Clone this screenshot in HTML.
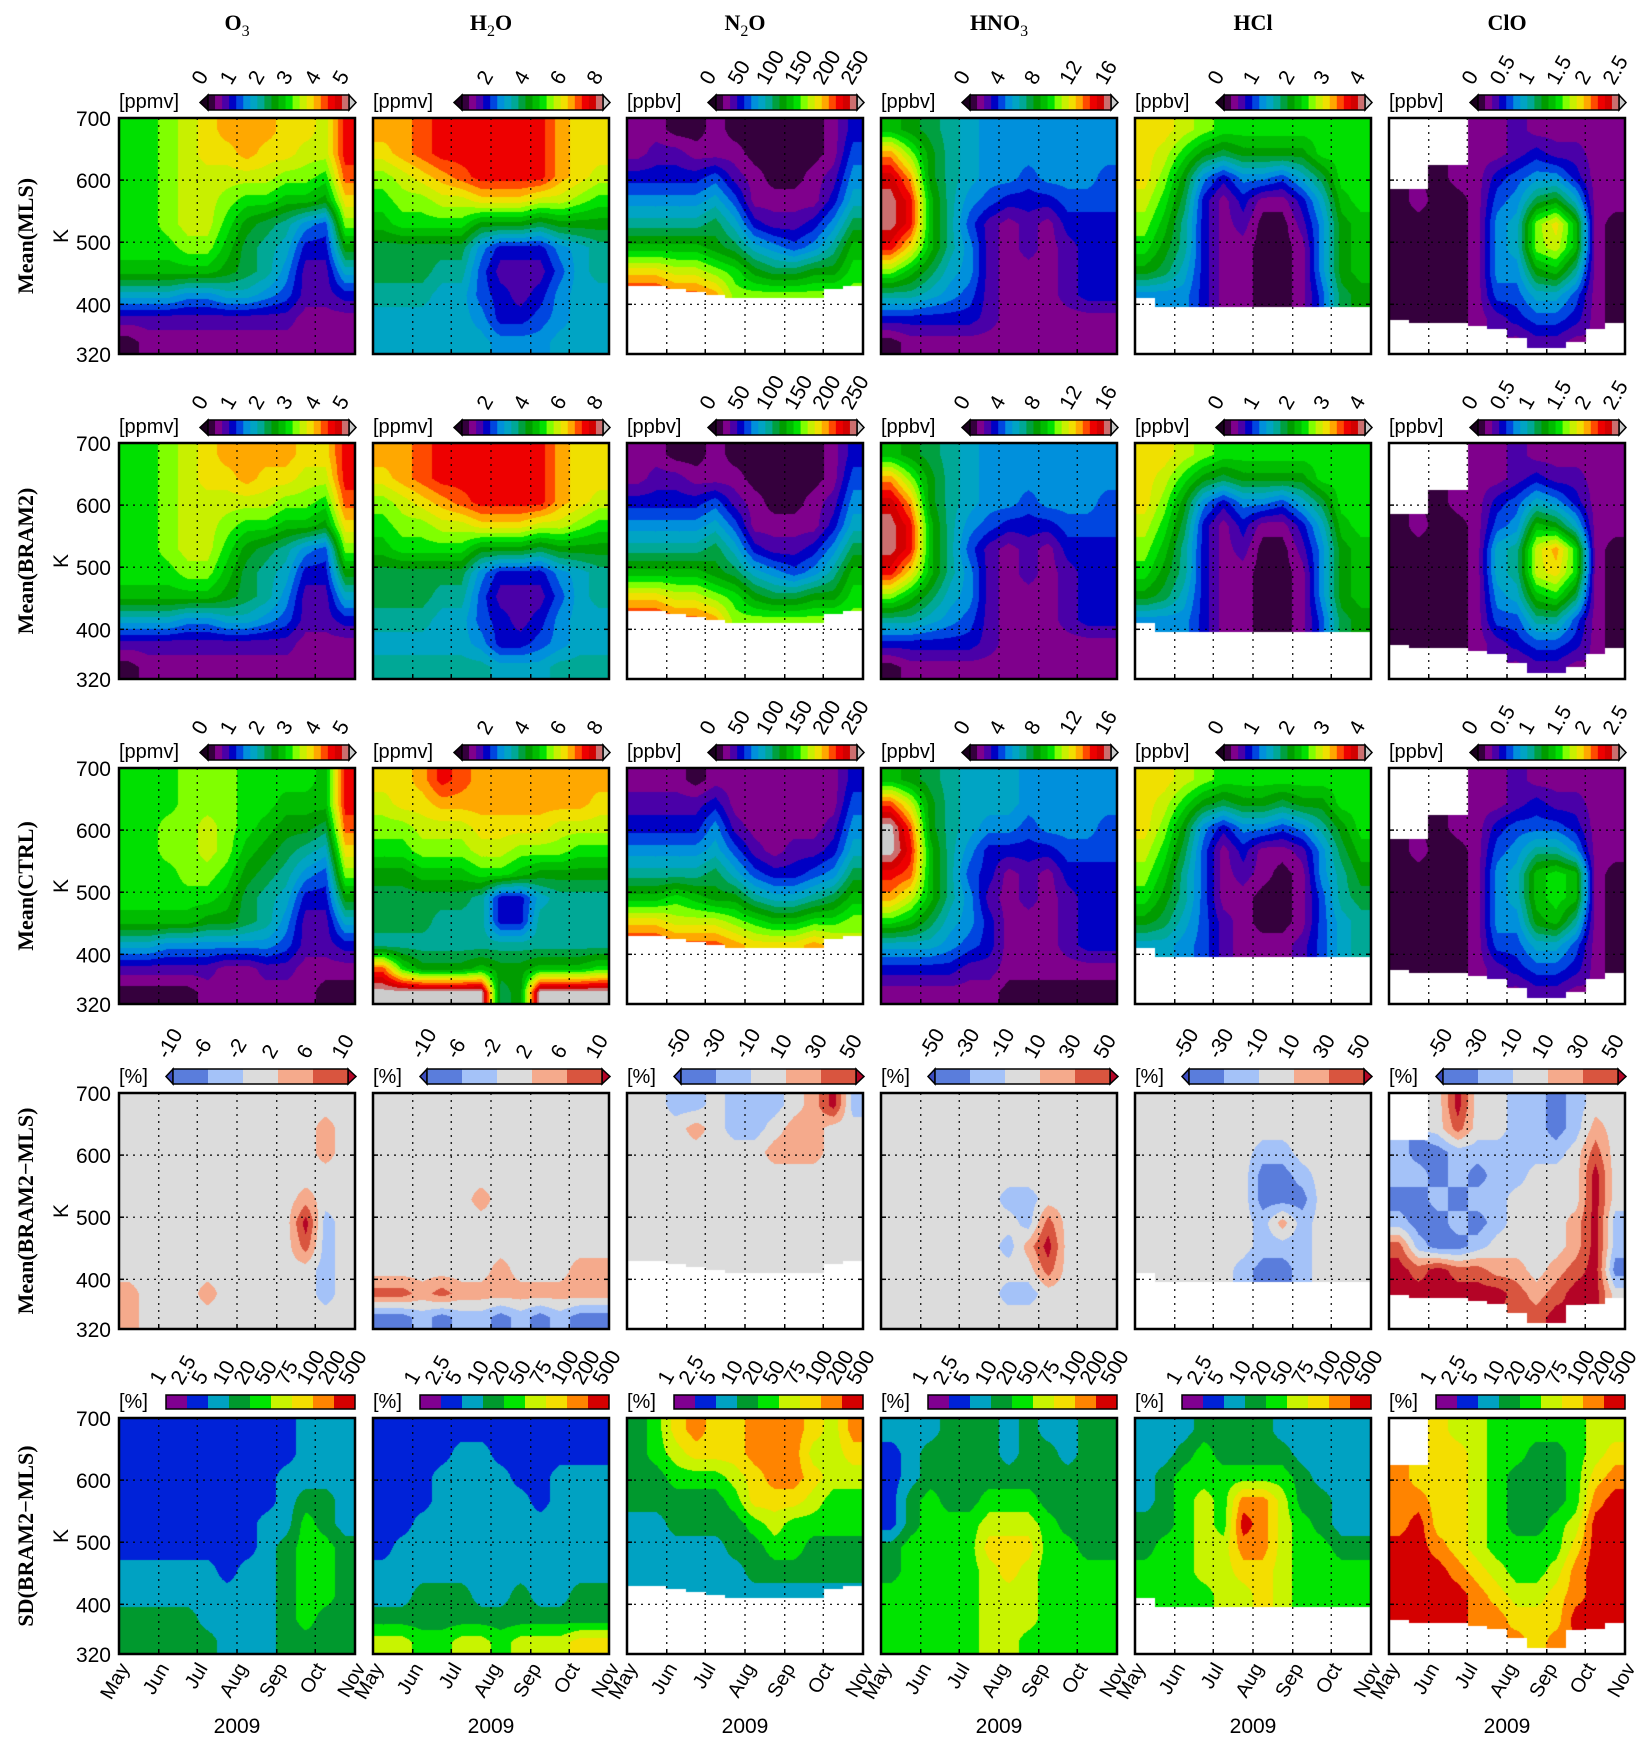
<!DOCTYPE html>
<html><head><meta charset="utf-8">
<style>
html,body{margin:0;padding:0;background:#fff;}
#wrap{position:relative;width:1651px;height:1748px;overflow:hidden;background:#fff;}
canvas{position:absolute;}
svg{position:absolute;left:0;top:0;}
</style></head>
<body>
<div id="wrap">
<svg id="ov" width="1651" height="1748"></svg>
</div>
<script>
// ---------- axes / layout data ----------
const colLefts = [119,373,627,881,1135,1389];
const rowTops = [118,443,768,1093,1418];
const PW = 236, PH = 236;
const kTicks = [700,600,500,400,320];
const gridK = [600,500,400];
const monthLabels = ['May','Jun','Jul','Aug','Sep','Oct','Nov'];
const monthDays = [0,31,61,92,123,153,184];
const rowNames = ['Mean(MLS)','Mean(BRAM2)','Mean(CTRL)','Mean(BRAM2\u2212MLS)','SD(BRAM2\u2212MLS)'];
const species = [['O','3'],['H','2','O'],['N','2','O'],['HNO','3'],['HCl'],['ClO']];
const units = ['[ppmv]','[ppmv]','[ppbv]','[ppbv]','[ppbv]','[ppbv]'];
const meanTicks = [['0','1','2','3','4','5'],['2','4','6','8'],['0','50','100','150','200','250'],['0','4','8','12','16'],['0','1','2','3','4'],['0','0.5','1','1.5','2','2.5']];
const h2oTickPos = [0.22,0.48,0.74,1.0];
const diffTicksA = ['-10','-6','-2','2','6','10'];
const diffTicksB = ['-50','-30','-10','10','30','50'];
const sdTicks = ['1','2.5','5','10','20','50','75','100','200','500'];

const MEAN_COLORS = ['#35003d','#7f008c','#4a00a8','#0000c4','#0046e0','#0090dc','#00a4c4','#00a896','#00a040','#009c00','#00bc00','#00e000','#80ff00','#c8f000','#f0e000','#ffa800','#ff4a00','#ee0000','#d20000','#cc6e6e','#cccccc'];
const DIFF_COLORS = ['#3b4cc0','#5a7ddc','#a4c2f8','#dcdcdc','#f5aa8c','#d9553f','#b40426'];
const SD_COLORS = ['#800090','#0022d8','#00a2c2','#00992e','#00e400','#c8f400','#f4de00','#ff8400','#d40000'];

// ---------- grids: rows = 681,643,...,339 K ; cols = half-month steps May..Oct ----------
const o3_mls = ['bbcdefffeedh','bbcdeefeeddh','bbcdddddccbg','bbcddcbbaa9e','bbcddb98754c','bbbcca876339','aaaaa9875226','666556654223','222222222111','011111111111'];
const h2o_mls = ['ffghhhhhhfee','efghhhhhhfee','cdefghhhhfed','bccddeeeddcb','abbbb9998999','888885333567','888774222467','777664323566','666665334566','666666555666'];
const n2o_mls = ['110010000013','122111000014','333342100125','555564111136','777786322358','aaaa9865457a','eeddcb98899b','hhggfccccccc','............','............'];
const n2o_floor = [430,430,425,420,415,410,410,410,410,410,425,430];
const hno3_mls = ['a98765555555','fc9765555555','if9765545554','jha754333444','jha742121333','hea752121233','ca8652111233','776542111233','333332111111','011111111111'];
const hcl_mls = ['eedcbbbbbbbb','edb989999bbb','ec95355468bb','db83131136ab','ca731200259a','b97311001 59a'.replace(' ',''),'986311001 59a'.replace(' ',''),'555311001 489'.replace(' ',''),'............','............'];
const hcl_floor = [410,390,390,390,390,370,370,370,370,385,390,390];
const clo_mls = ['....11211111','....11232211','..0113455311','010014589611','000015 6cea10'.replace(' ',''),'000015 6cda10'.replace(' ',''),'000015 59a710'.replace(' ',''),'000014 466410'.replace(' ',''),'000012 344310'.replace(' ',''),'......1221..'];
const clo_floor = [375,370,370,370,365,360,345,330,330,340,360,370];

const o3_bram = ['bbcdeffffeeh','bbcdeefeeddh','bbcdddddccbg','bbcddcbbaa9e','bbcddb98754c','bbbcca876339','aaaaa9875226','666556654223','222222222111','011111111111'];
const h2o_bram = ['ffghhhhhhfee','efghhhhhhfee','cdefghhhhfed','bccddeeeddcb','abbbb9998999','888885333567','888774222467','777664323566','666665334566','777777666777'];
const n2o_bram = ['110010000013','122111000014','333342100125','555564111136','777786322358','aaaa9865457a','eeddcb98899b','hhggfccccccc','............','............'];
const hno3_bram = ['a98765555555','fc9765555555','if9765545554','jha754333444','jha742121333','hea752121233','ca8652111233','776542111233','333332111111','011111111111'];
const hcl_bram = ['eedcbbbbbbbb','edb989999bbb','ec95355468bb','db83131136ab','ca731200259a','b97311001 59a'.replace(' ',''),'986311001 59a'.replace(' ',''),'555311001 489'.replace(' ',''),'............','............'];
const clo_bram = ['....11211111','....11232211','..0113465311','0100145a9611','000016 7dfb10'.replace(' ',''),'000016 7deb10'.replace(' ',''),'000015 6ab810'.replace(' ',''),'000014 477410'.replace(' ',''),'000012 344310'.replace(' ',''),'......1221..'];

const o3_ctrl = ['bbbcccbbbbah','bbbcccbbaaah','bbccdcba998g','bbccdca9876e','bbbccb98754c','bbbbba876339','aaaa99875226','665555554223','222221122111','000011111100'];
const h2o_ctrl = ['eefhgfffffff','deeffffffffe','ccdddeeeeddd','bbcccddcccbb','99aaabba9999','888887336777','888777337777','777777777777','gb999a99aaab','kkkkkk89kkkk'];
const n2o_ctrl = ['111011111113','222231111114','333352111125','555564212236','777786433458','aaba9976678a','eedddcbaabbc','hhgggfeeefed','............','............'];
const hno3_ctrl = ['a98766655555','gd9766655555','kg9765545554','kha753333444','hga743121333','fda752121233','ba8653111233','666543111233','333322111111','111111000000'];
const hcl_ctrl = ['eedcbbbbbbbb','edb9899899bb','ec953554579b','db841311258a','ca7412101579','b97411001478','986421001467','665421112467','............','............'];
const clo_ctrl = ['....11211111','....11232211','..0113444311','010014577511','000015 6aba10'.replace(' ',''),'000015 6aba10'.replace(' ',''),'000015 59a710'.replace(' ',''),'000014 466410'.replace(' ',''),'000012 344310'.replace(' ',''),'......1221..'];

const o3_diff = ['333333333333','333333333343','333333333343','333333333333','333333333433','333333333623','333333333523','333333333323','433343333323','433333333333'];
const h2o_diff = ['333333333333','333333333333','333333333333','333333333333','333334333333','333333333333','333333333333','333333433344','554544444444','112122121211'];
const n2o_diff = ['332232223462','333432234433','333333344433','333333333333','333333333333','333333333333','333333333333','333333333333','............','............'];
const hno3_diff = ['333333333333','333333333333','333333333333','333333333333','333333223333','333333325333','333333246333','333333335333','333333223333','333333333333'];
const hcl_diff = ['333333333333','333333333333','333333223333','333333112333','333333111333','333333242333','333333222333','333332112333','............','............'];
const clo_diff = ['..3633221233','..3533221243','211222222353','221212233363','112122333363','211212333462','521123333462','656554434561','666666545663','......556...'];

const o3_sd = ['111111111222','111111111222','111111112222','111111112332','111111122432','111111123443','222221223443','222222223443','333322223433','333332223333'];
const h2o_sd = ['111111111111','111122111111','111222211222','111222221222','112222222222','122222222222','222222222222','223332232233','333333333333','554455455566'];
const n2o_sd = ['346766777657','345666777556','334445677655','333334666544','223333454444','222223344333','222222333333','222222222222','............','............'];
const hno3_sd = ['222333232233','123333233233','123333333333','134334443333','134445554333','344446664433','344445654444','444445554444','444445554444','444445544444'];
const hcl_sd = ['222333322222','223433332222','234444443222','234547753322','334548754322','344557754433','444556654444','444455654444','............','............'];
const clo_sd = ['..6554444455','..6654433456','766654333467','776654333478','786654334588','887654444688','888765445788','888876556788','888877666888','......767...'];

// ---------- helpers ----------
const NS = 'http://www.w3.org/2000/svg';
const ov = document.getElementById('ov');
const wrap = document.getElementById('wrap');
function kToY(top, k){ return top + (700 - k) / 380 * PH; }
function dayToX(left, d){ return left + d / 184 * PW; }
function mk(tag, attrs, parent){
  const e = document.createElementNS(NS, tag);
  for (const a in attrs) e.setAttribute(a, attrs[a]);
  (parent || ov).appendChild(e);
  return e;
}
function hexToRgb(h){ return [parseInt(h.substr(1,2),16),parseInt(h.substr(3,2),16),parseInt(h.substr(5,2),16)]; }

function renderPanel(left, top, grid, colors, floorArr, name){
  const cv = document.createElement('canvas');
  cv.width = PW; cv.height = PH;
  cv.style.left = left + 'px'; cv.style.top = top + 'px';
  
  
  wrap.insertBefore(cv, ov);
  const ctx = cv.getContext('2d');
  const img = ctx.createImageData(PW, PH);
  const rgb = colors.map(hexToRgb);
  const nR = grid.length, nC = grid[0].length;
  const val = (r,c) => { const ch = grid[r][c]; return ch === '.' ? null : parseInt(ch, 21); };
  for (let x = 0; x < PW; x++){
    const t = (x + 0.5) / PW * nC - 0.5;
    const colIdx = Math.min(nC - 1, Math.floor((x + 0.5) / PW * nC));
    for (let y = 0; y < PH; y++){
      const K = 700 - (y + 0.5) / PH * 380;
      const u = (700 - K) / 38 - 0.5;
      let out = null;
      const nr = Math.max(0, Math.min(nR - 1, Math.round(u)));
      const nc = Math.max(0, Math.min(nC - 1, Math.round(t)));
      if (!(floorArr && K < floorArr[colIdx]) && val(nr, nc) !== null){
        const r0 = Math.max(0, Math.min(nR - 1, Math.floor(u))), r1 = Math.min(nR - 1, r0 + 1);
        const c0 = Math.max(0, Math.min(nC - 1, Math.floor(t))), c1 = Math.min(nC - 1, c0 + 1);
        const fu = Math.max(0, Math.min(1, u - r0)), ft = Math.max(0, Math.min(1, t - c0));
        let s = 0, w = 0;
        [[r0,c0,(1-fu)*(1-ft)],[r0,c1,(1-fu)*ft],[r1,c0,fu*(1-ft)],[r1,c1,fu*ft]].forEach(q => {
          const v = val(q[0], q[1]);
          if (v !== null && q[2] > 0){ s += v * q[2]; w += q[2]; }
        });
        const v = w > 0 ? s / w : val(nr, nc);
        out = Math.max(0, Math.min(colors.length - 1, Math.round(v)));
      }
      const p = (y * PW + x) * 4;
      const c = out === null ? [255,255,255] : rgb[out];
      img.data[p] = c[0]; img.data[p+1] = c[1]; img.data[p+2] = c[2]; img.data[p+3] = 255;
    }
  }
  ctx.putImageData(img, 0, 0);
}

const panelGrids = [
  [o3_mls,h2o_mls,n2o_mls,hno3_mls,hcl_mls,clo_mls],
  [o3_bram,h2o_bram,n2o_bram,hno3_bram,hcl_bram,clo_bram],
  [o3_ctrl,h2o_ctrl,n2o_ctrl,hno3_ctrl,hcl_ctrl,clo_ctrl],
  [o3_diff,h2o_diff,n2o_diff,hno3_diff,hcl_diff,clo_diff],
  [o3_sd,h2o_sd,n2o_sd,hno3_sd,hcl_sd,clo_sd]
];
const floors = [null,null,n2o_floor,null,hcl_floor,clo_floor];
const spKeys = ['o3','h2o','n2o','hno3','hcl','clo'];
const rowKeys = ['mean-mls','mean-bram2','mean-ctrl','mean-diff','sd-diff'];

// ---------- build panels ----------
for (let r = 0; r < 5; r++){
  const top = rowTops[r];
  const colors = r < 3 ? MEAN_COLORS : (r === 3 ? DIFF_COLORS : SD_COLORS);
  for (let c = 0; c < 6; c++){
    const left = colLefts[c];
    renderPanel(left, top, panelGrids[r][c], colors, floors[c], 'panel-' + spKeys[c] + '-' + rowKeys[r]);
    const g = mk('g', {});
    
    
    for (let m = 1; m < 6; m++){
      const x = dayToX(left, monthDays[m]);
      mk('line', {x1:x, x2:x, y1:top, y2:top+PH, stroke:'#000', 'stroke-width':1.2, 'stroke-dasharray':'2,5'}, g);
      mk('line', {x1:x, x2:x, y1:top+PH-5, y2:top+PH, stroke:'#000', 'stroke-width':1.5}, g);
    }
    gridK.forEach(k => {
      const y = kToY(top, k);
      mk('line', {x1:left, x2:left+PW, y1:y, y2:y, stroke:'#000', 'stroke-width':1.2, 'stroke-dasharray':'2,5'}, g);
      mk('line', {x1:left, x2:left+5, y1:y, y2:y, stroke:'#000', 'stroke-width':1.5}, g);
      mk('line', {x1:left+PW-5, x2:left+PW, y1:y, y2:y, stroke:'#000', 'stroke-width':1.5}, g);
    });
    const fr = mk('rect', {x:left, y:top, width:PW, height:PH, fill:'none', stroke:'#000', 'stroke-width':2.5});
    
    

    const ul = mk('text', {x:left, y:top-10, 'font-family':'Liberation Sans, sans-serif', 'font-size':20, fill:'#000'});
    ul.textContent = r < 3 ? units[c] : '[%]';
    
    

    const cb = mk('g', {});
    
    
    let bx0, bx1, by0, by1, cols, ticks, tickPos;
    if (r < 3){
      bx0 = left + 89; bx1 = left + 230; by0 = top - 23; by1 = top - 8;
      cols = MEAN_COLORS.slice(0, 20);
      ticks = meanTicks[c];
      tickPos = c === 1 ? h2oTickPos : ticks.map((_, i) => i / (ticks.length - 1));
      mk('polygon', {points:`${bx0},${by0} ${left+81},${(by0+by1)/2} ${bx0},${by1}`, fill:'#1a001e', stroke:'#000', 'stroke-width':1.5}, cb);
      mk('polygon', {points:`${bx1},${by0} ${left+237},${(by0+by1)/2} ${bx1},${by1}`, fill:'#cccccc', stroke:'#000', 'stroke-width':1.5}, cb);
    } else if (r === 3){
      bx0 = left + 54; bx1 = left + 229; by0 = top - 24; by1 = top - 9;
      cols = DIFF_COLORS.slice(1, 6);
      ticks = c < 2 ? diffTicksA : diffTicksB;
      tickPos = ticks.map((_, i) => i / (ticks.length - 1));
      mk('polygon', {points:`${bx0},${by0} ${left+47},${(by0+by1)/2} ${bx0},${by1}`, fill:DIFF_COLORS[0], stroke:'#000', 'stroke-width':1.5}, cb);
      mk('polygon', {points:`${bx1},${by0} ${left+237},${(by0+by1)/2} ${bx1},${by1}`, fill:DIFF_COLORS[6], stroke:'#000', 'stroke-width':1.5}, cb);
    } else {
      bx0 = left + 47; bx1 = left + 236; by0 = top - 23; by1 = top - 9;
      cols = SD_COLORS;
      ticks = sdTicks;
      tickPos = ticks.map((_, i) => i / (ticks.length - 1));
    }
    const bw = (bx1 - bx0) / cols.length;
    cols.forEach((col, i) => mk('rect', {x:bx0 + i*bw, y:by0, width:bw+0.5, height:by1-by0, fill:col}, cb));
    mk('rect', {x:bx0, y:by0, width:bx1-bx0, height:by1-by0, fill:'none', stroke:'#000', 'stroke-width':1.5}, cb);
    ticks.forEach((tk, i) => {
      const tx = bx0 + tickPos[i] * (bx1 - bx0);
      const t = mk('text', {transform:`translate(${tx-5},${by0-9}) rotate(-60)`, 'font-family':'Liberation Sans, sans-serif', 'font-size':21, fill:'#000'}, cb);
      t.textContent = tk;
    });
  }
  kTicks.forEach(k => {
    const t = mk('text', {x:colLefts[0]-8, y:kToY(top, k)+8, 'text-anchor':'end', 'font-family':'Liberation Sans, sans-serif', 'font-size':21, fill:'#000'});
    t.textContent = k;
    
    
  });
  const kl = mk('text', {transform:`translate(68,${top+PH/2}) rotate(-90)`, 'text-anchor':'middle', 'font-family':'Liberation Sans, sans-serif', 'font-size':21, fill:'#000'});
  kl.textContent = 'K';
  
  
  const rl = mk('text', {transform:`translate(33,${top+PH/2}) rotate(-90)`, 'text-anchor':'middle', 'font-family':'Liberation Serif, serif', 'font-weight':'bold', 'font-size':22, fill:'#000'});
  rl.textContent = rowNames[r];
  
  
}

species.forEach((sp, c) => {
  const cx = colLefts[c] + PW/2;
  const t = mk('text', {x:cx, y:30, 'text-anchor':'middle', 'font-family':'Liberation Serif, serif', 'font-weight':'bold', 'font-size':22, fill:'#000'});
  
  
  const a = document.createElementNS(NS, 'tspan'); a.textContent = sp[0]; t.appendChild(a);
  if (sp.length > 1){
    const s = document.createElementNS(NS, 'tspan'); s.textContent = sp[1];
    s.setAttribute('font-size', 16); s.setAttribute('font-weight', 'normal'); s.setAttribute('dy', 6); t.appendChild(s);
    if (sp.length > 2){ const b = document.createElementNS(NS, 'tspan'); b.textContent = sp[2]; b.setAttribute('dy', -6); t.appendChild(b); }
  }
});

const bottom = rowTops[4] + PH;
colLefts.forEach((left, c) => {
  monthLabels.forEach((m, i) => {
    const x = dayToX(left, monthDays[i]);
    const t = mk('text', {transform:`translate(${x+11},${bottom+14}) rotate(-60)`, 'text-anchor':'end', 'font-family':'Liberation Sans, sans-serif', 'font-size':20, fill:'#000'});
    t.textContent = m;
    
    
  });
  const y = mk('text', {x:left+PW/2, y:1733, 'text-anchor':'middle', 'font-family':'Liberation Sans, sans-serif', 'font-size':21, fill:'#000'});
  y.textContent = '2009';
  
  
});
</script>
</body></html>
